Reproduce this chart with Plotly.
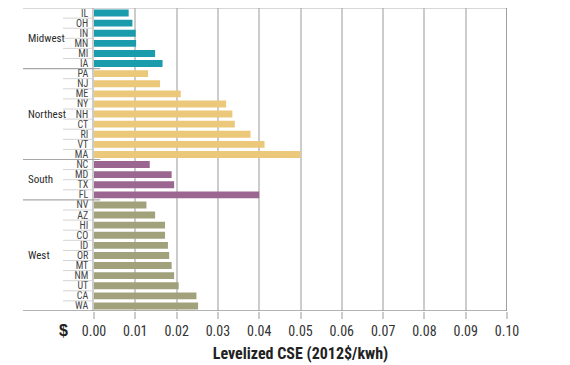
import plotly.graph_objects as go

# ---- data ----
regions = ["Midwest", "Northest", "South", "West"]
midwest_states = ["IL", "OH", "IN", "MN", "MI", "IA"]
midwest_vals = [0.0084, 0.0093, 0.0101, 0.0102, 0.0148, 0.0166]
northeast_states = ["PA", "NJ", "ME", "NY", "NH", "CT", "RI", "VT", "MA"]
northeast_vals = [0.0131, 0.0160, 0.0210, 0.0320, 0.0335, 0.0341, 0.0379, 0.0413, 0.0500]
south_states = ["NC", "MD", "TX", "FL"]
south_vals = [0.0135, 0.0188, 0.0194, 0.0400]
west_states = ["NV", "AZ", "HI", "CO", "ID", "OR", "MT", "NM", "UT", "CA", "WA"]
west_vals = [0.0127, 0.0148, 0.0172, 0.0172, 0.0179, 0.0182, 0.0188, 0.0194, 0.0205, 0.0248, 0.0252]
x_ticks = [0.00, 0.01, 0.02, 0.03, 0.04, 0.05, 0.06, 0.07, 0.08, 0.09, 0.10]
x_title = "Levelized CSE (2012$/kwh)"

groups = [
    (regions[0], midwest_states, midwest_vals, "#1b9cac"),
    (regions[1], northeast_states, northeast_vals, "#ecc87a"),
    (regions[2], south_states, south_vals, "#9b6791"),
    (regions[3], west_states, west_vals, "#a1a17b"),
]

NARROW = "Liberation Sans Narrow, Arial Narrow, Roboto Condensed, Liberation Sans, sans-serif"

all_states = []
for g in groups:
    all_states += g[1]

fig = go.Figure()
for name, states, vals, color in groups:
    fig.add_trace(go.Bar(
        x=vals, y=states, orientation="h", marker=dict(color=color, line=dict(width=0)),
        width=0.68, name=name, showlegend=False,
    ))

shapes = []
annotations = []
L_GROUP = -0.172
n = len(all_states)
shapes.append(dict(type="line", xref="paper", yref="y", x0=L_GROUP, x1=1, y0=-0.5, y1=-0.5,
                   line=dict(color="#b0b0b0", width=1.2)))
shapes.append(dict(type="line", xref="paper", yref="y", x0=L_GROUP, x1=1, y0=n - 0.5,
                   y1=n - 0.5, line=dict(color="#9a9a9a", width=1.5)))
shapes.append(dict(type="line", xref="x", yref="y", x0=x_ticks[-1], x1=x_ticks[-1], y0=-0.5,
                   y1=n - 0.5, line=dict(color="#808080", width=1.5)))

idx = 0
for gi, (name, states, vals, color) in enumerate(groups):
    start = idx
    end = idx + len(states) - 1
    for k in range(start, end):
        shapes.append(dict(type="line", xref="paper", yref="y", x0=-0.075, x1=0, y0=k + 0.5, y1=k + 0.5,
                           line=dict(color="#d4d4d4", width=1)))
    if gi < len(groups) - 1:
        shapes.append(dict(type="line", xref="paper", yref="y", x0=L_GROUP, x1=0.015, y0=end + 0.5,
                           y1=end + 0.5, line=dict(color="#a8a8a8", width=1.2)))
    annotations.append(dict(text=name, xref="paper", yref="y", x=-0.165, y=(start + end) / 2,
                            xanchor="left", yanchor="middle", showarrow=False,
                            font=dict(family=NARROW, size=11, color="#2a2a2a")))
    idx = end + 1

annotations.append(dict(text="<b>$</b>", xref="paper", yref="paper", x=-0.075, y=-0.063,
                        xanchor="center", yanchor="middle", showarrow=False,
                        font=dict(family="Liberation Sans, Arial, sans-serif", size=16, color="#222")))

fig.update_layout(
    width=570, height=365,
    margin=dict(l=86, r=71, t=0, b=62),
    plot_bgcolor="white", paper_bgcolor="white",
    shapes=shapes, annotations=annotations,
    xaxis=dict(
        range=[0, 0.1], tickvals=x_ticks, tickformat=".2f", automargin=False,
        showgrid=True, gridcolor="#cccccc", gridwidth=1.5,
        zeroline=False, showline=False,
        ticks="outside", ticklen=7, tickcolor="#cccccc", tickwidth=1.5,
        tickfont=dict(family=NARROW, size=14, color="#333"),
        title=dict(text="<b>" + x_title + "</b>", font=dict(family=NARROW, size=16, color="#222"),
                   standoff=10),
    ),
    yaxis=dict(
        tickmode="array", tickvals=all_states, ticktext=all_states, automargin=False,
        categoryorder="array", categoryarray=all_states,
        showgrid=False, zeroline=False, showline=True, linecolor="#cccccc", linewidth=1.5,
        ticks="", ticklabelstandoff=2,
        tickfont=dict(family=NARROW, size=10, color="#444"),
        range=[n - 0.5, -0.5],
    ),
)

fig.write_html("out.html")
